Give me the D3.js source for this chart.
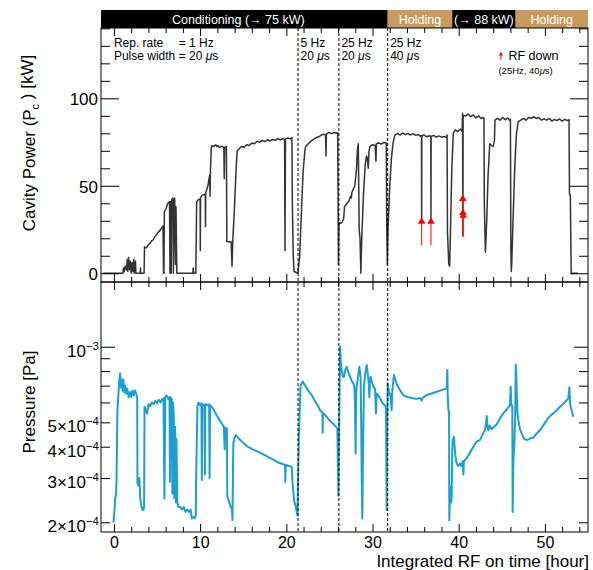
<!DOCTYPE html>
<html>
<head>
<meta charset="utf-8">
<script src="https://cdn.jsdelivr.net/npm/d3@7"></script>
<style>
  body { margin: 0; background: #fff; }
  svg { display: block; }
  text { font-family: "Liberation Sans", Arial, Helvetica, sans-serif; }
</style>
</head>
<body>
<svg id="chart" width="593" height="570"></svg>
<script>
// ---- data ----
// cavity power [hour, kW]
var powerData = [
  [-1.3,0],[1.05,0],[1.1,3],[1.2,1],[1.3,4],[1.45,2],[1.55,8],[1.6,1],[1.7,9],[1.8,2],[1.9,7],[2.0,0],
  [2.1,6],[2.2,1],[2.3,8],[2.35,0],[2.5,7],[2.55,0],[3.05,0],[3.08,3],[3.1,0],[3.5,0],
  [3.55,15],[3.75,14.5],[3.95,16],[4.15,17],[4.35,18.5],[4.55,19],[4.75,21],[4.95,22],[5.15,23.5],[5.35,24.5],
  [5.55,26],[5.7,27],[5.75,0],[5.8,0],[5.85,35],[6.05,37],[6.25,40],[6.45,41],[6.5,0],[6.55,41],[6.65,0],
  [6.7,42],[6.85,43],[6.9,0],[7.0,40],[7.05,43],[7.15,5],[7.2,38],[7.3,0],[7.45,0],
  [9.15,0],[9.2,3],[9.25,0],[9.5,0],[9.6,41],[9.8,42],[10.0,42.5],[10.02,13],[10.05,43],[10.2,44.5],[10.5,45],
  [10.6,45.5],[10.62,26.6],[10.65,46],[10.9,50],[11.1,56],[11.15,44],[11.2,59],[11.3,72],[11.4,73],[11.6,72.5],
  [11.8,73.5],[11.95,72.5],[12.05,73],[12.25,72],[12.5,72.5],[12.75,72],[12.8,54],[12.85,72],[13.05,72.5],
  [13.1,18],[13.6,18],[13.7,4],[13.8,20],[13.95,34],[14.2,62],[14.3,70],
  [14.5,71],[14.8,72.5],[15.1,72],[15.4,73.5],[15.7,73],[16.0,74.5],[16.3,74],[16.6,75.5],[16.9,74.8],[17.2,76],
  [17.5,75.2],[17.8,76.3],[18.1,75.6],[18.4,76.5],[18.7,76],[19.0,77],[19.3,76.3],[19.6,77],[19.8,76.5],
  [19.85,13],[19.9,76.8],[20.2,77.3],[20.45,76.8],[20.65,77.5],[20.7,40],[20.8,10],[20.9,1],[21.35,0],
  [21.55,10],[21.75,35],[21.95,58],[22.15,70],[22.25,72.5],[22.55,74],[22.85,75.5],[23.15,76.5],[23.45,77.5],
  [23.75,78],[24.05,79],[24.35,79.5],[24.55,79],[24.6,67],[24.65,79.5],[24.95,80.5],[25.25,79.8],[25.55,80.5],
  [25.85,80],[25.95,80.5],[25.97,72],[26.05,5],[26.1,29],[26.25,28.5],[26.45,29],[26.65,31],[26.75,38],
  [27.05,40],[27.25,41],[27.45,44],[27.55,43],[27.6,46],[27.85,49],[27.95,50],[28.15,60],[28.25,71],[28.35,74],
  [28.45,25],[28.55,20],[28.65,0],[28.75,20],[28.95,45],[29.15,62],[29.3,67],[29.4,66],[29.5,60],[29.6,70],
  [29.7,72.5],[30.0,73.5],[30.3,73],[30.4,64],[30.45,74],[30.7,74.5],[31.0,73.8],[31.3,74.8],[31.6,74.5],
  [31.65,27],[31.72,5],[31.8,25],[32.0,50],[32.2,66],[32.4,75],[32.6,79],[32.9,80],[33.2,79],[33.5,80.2],
  [33.8,79.2],[34.1,80],[34.4,79],[34.7,79.8],[35.0,78.8],[35.3,79.3],[35.6,78.3],[35.68,78.8],[35.7,30.5],
  [35.72,78.5],[36.0,79],[36.3,78],[36.6,78.6],[36.76,78.2],[36.78,30.5],[36.8,78.2],[37.1,78.8],[37.4,77.8],
  [37.7,78.5],[38.0,77.8],[38.3,78.2],[38.55,77.5],[38.65,79],[38.7,23],[38.85,5],[38.95,4],[39.05,25],
  [39.2,60],[39.37,80],[39.6,82],[39.9,81],[40.2,82.5],[40.4,81],[40.45,91.5],[40.47,43],[40.49,34],[40.51,90],
  [40.8,90],[41.1,91],[41.4,89.5],[41.7,90.5],[42.0,88.8],[42.3,90],[42.6,88.5],[42.9,89],[42.93,88],
  [42.97,40],[43.1,12],[43.25,30],[43.4,55],[43.6,74],[43.8,73],[44.0,72.5],[44.15,76],[44.2,87.5],[44.5,88.5],
  [44.8,87.5],[45.1,89],[45.4,87.8],[45.7,88.8],[45.9,87.5],[46.0,88],[46.05,15],[46.1,1],[46.15,5],[46.3,30],
  [46.5,60],[46.7,80],[46.9,86.5],[47.2,87.5],[47.5,88.5],[47.8,87.5],[48.1,89],[48.4,88.5],[48.7,89.5],
  [49.0,88.5],[49.3,89],[49.6,87.5],[49.9,88.3],[50.2,87.5],[50.5,88.5],[50.8,87],[51.1,88],[51.4,87.2],
  [51.7,88.2],[52.0,87],[52.3,88],[52.6,87.2],[52.8,87.8],[52.85,45.7],[52.95,44],[53.05,0],[53.8,0]
];

// vacuum pressure [hour, Pa x 1e-4]
var pressureE4 = [
  [-0.05,2.0],[0.05,2.2],[0.15,2.5],[0.25,2.6],[0.3,2.9],[0.4,5.5],[0.5,6.3],[0.6,7.2],[0.72,7.83],[0.8,6.9],
  [0.9,7.4],[1.0,6.7],[1.1,7.4],[1.2,6.6],[1.3,7.0],[1.4,6.5],[1.55,6.8],[1.7,6.3],[1.85,6.6],[2.0,6.3],
  [2.15,6.7],[2.3,6.4],[2.45,6.7],[2.58,6.5],[2.7,6.3],[2.73,2.86],[2.85,2.8],[2.95,3.0],[3.05,2.5],[3.15,2.35],
  [3.3,2.25],[3.43,2.24],[3.5,2.3],[3.55,5.77],[3.7,5.6],[3.85,5.42],[4.0,5.9],[4.2,5.8],[4.4,6.0],[4.6,5.9],
  [4.8,6.1],[5.0,5.95],[5.2,6.15],[5.4,6.0],[5.6,6.2],[5.75,6.23],[5.86,2.49],[5.95,6.3],[6.1,6.4],[6.3,6.2],
  [6.45,6.3],[6.5,2.9],[6.55,6.3],[6.7,6.2],[6.78,2.6],[6.85,6.0],[6.95,5.3],[7.0,2.5],[7.1,4.8],[7.2,2.4],
  [7.25,4.3],[7.35,2.4],[7.5,2.3],[7.7,2.3],[7.9,2.25],[8.1,2.3],[8.3,2.2],[8.5,2.25],[8.7,2.2],[8.9,2.25],
  [9.03,2.07],[9.2,2.1],[9.4,2.08],[9.5,2.15],[9.54,3.04],[9.69,5.77],[9.8,6.0],[10.0,5.85],[10.15,5.95],
  [10.2,2.95],[10.25,5.9],[10.5,5.85],[10.55,3.1],[10.6,5.9],[10.9,5.85],[11.05,5.9],[11.1,3.0],[11.15,5.85],
  [11.35,5.77],[11.6,5.6],[11.9,5.35],[12.2,5.15],[12.5,4.95],[12.75,4.8],[12.85,3.9],[12.9,4.75],[13.1,4.73],
  [13.15,2.53],[13.3,2.45],[13.55,2.3],[13.7,2.25],[13.75,2.04],[13.85,4.12],[14.0,4.35],[14.17,4.45],
  [14.5,4.3],[15.0,4.15],[15.5,4.0],[16.0,3.92],[16.5,3.85],[17.0,3.78],[17.5,3.7],[18.0,3.62],[18.5,3.55],
  [19.0,3.47],[19.5,3.42],[19.85,3.38],[19.88,2.9],[19.92,3.38],[20.3,3.35],[20.63,3.33],[20.7,2.94],
  [20.9,2.45],[21.1,2.3],[21.29,2.13],[21.45,4.3],[21.65,7.03],[21.9,7.26],[22.2,7.0],[22.5,6.72],[22.9,6.45],
  [23.3,6.1],[23.7,5.8],[23.91,5.59],[24.2,5.45],[24.22,4.55],[24.25,5.45],[24.6,5.3],[25.0,5.1],[25.4,4.95],
  [25.92,4.73],[26.04,2.56],[26.1,4.0],[26.23,10.0],[26.35,8.4],[26.42,8.08],[26.55,7.6],[26.7,7.6],
  [26.85,8.1],[27.0,8.33],[27.2,7.9],[27.39,7.6],[27.6,7.3],[27.78,7.15],[27.9,6.9],[27.97,6.0],[28.04,3.76],
  [28.1,6.5],[28.16,6.93],[28.3,7.5],[28.47,8.32],[28.55,7.9],[28.62,7.6],[28.7,4.5],[28.74,3.1],[28.82,2.07],
  [28.9,4.0],[29.01,6.93],[29.15,7.8],[29.32,8.45],[29.45,7.8],[29.52,7.37],[29.58,7.0],[29.63,6.3],[29.7,7.2],
  [29.78,7.6],[29.95,7.2],[30.1,6.93],[30.3,6.8],[30.4,5.43],[30.48,6.52],[30.8,6.3],[31.06,6.05],[31.3,5.9],
  [31.56,5.77],[31.64,2.24],[31.7,4.5],[31.76,7.15],[31.9,6.6],[32.03,6.52],[32.15,6.0],[32.22,5.59],
  [32.28,6.5],[32.34,6.93],[32.49,7.72],[32.8,7.1],[33.19,6.72],[33.5,6.45],[33.96,6.32],[34.5,6.25],
  [35.12,6.2],[35.5,6.25],[35.7,6.1],[35.8,6.25],[36.28,6.42],[36.8,6.5],[37.44,6.62],[38.0,6.72],[38.6,6.83],
  [38.68,8.08],[38.72,6.5],[38.8,5.59],[38.88,5.5],[38.91,2.04],[38.98,2.6],[39.07,2.77],[39.13,2.4],
  [39.18,2.5],[39.25,3.8],[39.3,4.25],[39.45,4.38],[39.6,3.7],[39.76,3.43],[39.95,3.35],[40.15,3.43],
  [40.3,3.35],[40.46,3.5],[40.54,3.1],[40.6,3.5],[40.92,3.6],[41.3,3.78],[41.7,4.0],[42.1,4.2],[42.47,4.25],
  [42.8,4.5],[43.05,4.65],[43.2,5.0],[43.25,5.3],[43.35,4.8],[43.44,4.65],[43.6,4.85],[43.83,4.7],[44.1,4.8],
  [44.41,4.9],[44.8,5.2],[45.18,5.43],[45.6,5.65],[45.95,5.86],[46.03,6.93],[46.1,5.95],[46.22,5.77],
  [46.26,2.2],[46.34,3.54],[46.45,4.0],[46.55,5.2],[46.62,8.5],[46.69,7.49],[46.8,5.5],[46.92,5.1],[47.1,4.7],
  [47.31,4.52],[47.6,4.3],[47.89,4.25],[48.2,4.3],[48.66,4.35],[49.0,4.5],[49.44,4.65],[49.8,4.85],
  [50.21,5.1],[50.6,5.3],[50.98,5.43],[51.4,5.6],[51.76,5.77],[52.2,5.95],[52.72,6.23],[52.84,6.89],
  [52.92,6.0],[52.99,5.77],[53.15,5.5],[53.3,5.26]
];

// operation phases shown in the banner
var phaseStart = [-1.5, 31.76, 39.25, 46.6];
var phaseEnd = [31.76, 39.25, 46.6, 55];
var phaseLabels = ["Conditioning (\u2192 75 kW)", "Holding", "(\u2192 88 kW)", "Holding"];
var phaseKind = ["cond", "hold", "cond", "hold"];

// rep-rate / pulse width changes
var changeHours = [21.36, 26.1, 31.76];
var rateLabels = ["5 Hz", "25 Hz", "25 Hz"];
var widthLabels = ["20", "20", "40"];

// RF-down markers [hour, tail kW, tip kW]
var rfDown = [[35.7, 16, 32], [36.78, 16, 32], [40.47, 21, 45], [40.49, 21, 37], [40.52, 21, 35.5]];

// axis ticks
var xMajor = [0, 10, 20, 30, 40, 50];
var xMinor = [2, 4, 6, 8, 12, 14, 16, 18, 22, 24, 26, 28, 32, 34, 36, 38, 42, 44, 46, 48, 52, 54];
var powerMajor = [0, 50, 100];
var powerMinor = [10, 20, 30, 40, 60, 70, 80, 90, 110, 120, 130, 140];
var presLabelled = [2e-4, 3e-4, 4e-4, 5e-4, 1e-3];
var presMinor = [6e-4, 7e-4, 8e-4, 9e-4];

// ---- layout ----
var L = 101, R = 588, T1 = 28, B1 = 282, T2 = 282, B2 = 532;
var svg = d3.select("#chart");

var x = d3.scaleLinear().domain([-1.5, 55]).range([L, R]);
var yPow = d3.scaleLinear().domain([-5, 140.2]).range([B1, T1]);
var yPres = d3.scaleLog().domain([1.83e-4, 1.81e-3]).range([B2, T2]);

var defs = svg.append("defs");
defs.append("clipPath").attr("id", "clipTop").append("rect")
  .attr("x", L).attr("y", T1).attr("width", R - L).attr("height", B1 - T1);
defs.append("clipPath").attr("id", "clipBot").append("rect")
  .attr("x", L).attr("y", T2).attr("width", R - L).attr("height", B2 - T2);

// banner
var banner = svg.append("g");
phaseStart.forEach(function (s, i) {
  banner.append("rect")
    .attr("x", x(s)).attr("y", 10)
    .attr("width", x(phaseEnd[i]) - x(s)).attr("height", T1 - 10)
    .attr("fill", phaseKind[i] == "cond" ? "#000" : "#c79a5f");
  var cx = (x(s) + x(phaseEnd[i])) / 2 + (i == 0 ? -6 : 0);
  banner.append("text")
    .attr("x", cx).attr("y", 24)
    .attr("text-anchor", "middle")
    .attr("fill", "#fff")
    .style("font-size", "12.5px")
    .text(phaseLabels[i]);
});

// lines
var powerLine = d3.line().x(function (d) { return x(d[0]); }).y(function (d) { return yPow(d[1]); });
var presLine = d3.line().x(function (d) { return x(d[0]); }).y(function (d) { return yPres(d[1] * 1e-4); });

svg.append("path")
  .datum(powerData)
  .attr("clip-path", "url(#clipTop)")
  .attr("d", powerLine)
  .attr("fill", "none")
  .attr("stroke", "#333")
  .attr("stroke-width", 1.5)
  .attr("stroke-linejoin", "round");

svg.append("path")
  .datum(pressureE4)
  .attr("clip-path", "url(#clipBot)")
  .attr("d", presLine)
  .attr("fill", "none")
  .attr("stroke", "#1b9fd3")
  .attr("stroke-width", 2)
  .attr("stroke-linejoin", "round");

// RF down arrows
var arrows = svg.append("g").attr("clip-path", "url(#clipTop)");
rfDown.forEach(function (a) {
  var ax = x(a[0]), yTail = yPow(a[1]), yTip = yPow(a[2]);
  arrows.append("line")
    .attr("x1", ax).attr("x2", ax).attr("y1", yTail).attr("y2", yTip + 4)
    .attr("stroke", "#ff0000").attr("stroke-width", 1);
  arrows.append("path")
    .attr("d", "M" + (ax - 3.8) + "," + (yTip + 6.5) + "L" + (ax + 3.8) + "," + (yTip + 6.5) + "L" + ax + "," + yTip + "Z")
    .attr("fill", "#ff0000");
});

// dashed change lines
svg.selectAll(".chg")
  .data(changeHours)
  .enter()
  .append("line")
  .attr("x1", function (d) { return x(d); })
  .attr("x2", function (d) { return x(d); })
  .attr("y1", T1).attr("y2", B2)
  .attr("stroke", "#000").attr("stroke-width", 1)
  .attr("stroke-dasharray", "3,2");

// frames
[[T1, B1], [T2, B2]].forEach(function (p) {
  svg.append("rect")
    .attr("x", L).attr("y", p[0]).attr("width", R - L).attr("height", p[1] - p[0])
    .attr("fill", "none").attr("stroke", "#000").attr("stroke-width", 1);
});

// tick helper
function drawAxis(axis, tx, ty) {
  var g = svg.append("g").attr("transform", "translate(" + tx + "," + ty + ")").call(axis);
  g.select(".domain").remove();
  g.selectAll(".tick line").attr("stroke", "#000");
  return g;
}

// x ticks on all four horizontal edges
[[B1, "up"], [T1, "down"], [T2, "down"], [B2, "up"]].forEach(function (e) {
  var mk = e[1] == "up" ? d3.axisBottom : d3.axisTop;
  drawAxis(mk(x).tickValues(xMajor).tickSize(-8).tickFormat(""), 0, e[0]);
  drawAxis(mk(x).tickValues(xMinor).tickSize(-5).tickFormat(""), 0, e[0]);
});

// x labels
var xl = drawAxis(d3.axisBottom(x).tickValues(xMajor).tickSize(0).tickPadding(0), 0, B2);
xl.selectAll(".tick text").attr("y", 16).attr("dy", 0).style("font-size", "16px").attr("fill", "#000");

// power axis
var pl = drawAxis(d3.axisLeft(yPow).tickValues(powerMajor).tickSize(-18).tickPadding(3), L, 0);
pl.selectAll(".tick text").style("font-size", "17px").attr("fill", "#000").attr("dy", "0.37em");
drawAxis(d3.axisLeft(yPow).tickValues(powerMinor).tickSize(-9).tickFormat(""), L, 0);
drawAxis(d3.axisRight(yPow).tickValues(powerMajor).tickSize(-18).tickFormat(""), R, 0);
drawAxis(d3.axisRight(yPow).tickValues(powerMinor).tickSize(-9).tickFormat(""), R, 0);

// pressure axis
var ql = drawAxis(d3.axisLeft(yPres).tickValues(presLabelled).tickSize(-9).tickPadding(2), L, 0);
ql.selectAll(".tick line").attr("x2", function (d) { return d == 1e-3 ? 14 : 9; });
ql.selectAll(".tick text").each(function (d) {
  var t = d3.select(this).text("").attr("fill", "#000").attr("dy", "0.55em").style("font-size", "17px");
  var exp = Math.floor(Math.log10(d) + 1e-9);
  var mant = Math.round(d / Math.pow(10, exp));
  t.append("tspan").text((mant == 1 ? "" : mant + "\u00d7") + "10");
  t.append("tspan").attr("dy", "-0.6em").style("font-size", "11.5px").text("\u2212" + (-exp));
});
drawAxis(d3.axisLeft(yPres).tickValues(presMinor).tickSize(-9).tickFormat(""), L, 0);
var qr = drawAxis(d3.axisRight(yPres).tickValues(presLabelled.concat(presMinor)).tickSize(-9).tickFormat(""), R, 0);
qr.selectAll(".tick line").attr("x2", function (d) { return d == 1e-3 ? -14 : -9; });

// axis titles
var ty = svg.append("text")
  .attr("transform", "translate(35," + 143 + ") rotate(-90)")
  .attr("text-anchor", "middle")
  .style("font-size", "17px");
ty.append("tspan").text("Cavity Power (P");
ty.append("tspan").attr("dy", "0.35em").style("font-size", "11px").text("c");
ty.append("tspan").attr("dy", "-0.35em").text(" ) [kW]");

svg.append("text")
  .attr("transform", "translate(35," + 402 + ") rotate(-90)")
  .attr("text-anchor", "middle")
  .style("font-size", "17px")
  .text("Pressure [Pa]");

svg.append("text")
  .attr("x", R + 1).attr("y", 567)
  .attr("text-anchor", "end")
  .style("font-size", "17px")
  .text("Integrated RF on time [hour]");

// rate / width annotations
var ann = svg.append("g").style("font-size", "12px");
ann.append("text").attr("x", x(0)).attr("y", 47).text("Rep. rate");
var pw = ann.append("text").attr("x", x(0)).attr("y", 59.5);
var pwLead = pw.append("tspan").text("Pulse width ");
pw.append("tspan").text("= 20 ");
pw.append("tspan").style("font-style", "italic").text("\u03bc");
pw.append("tspan").text("s");
// line the "=" of the first row up with the second row
ann.append("text").attr("x", x(0) + pwLead.node().getComputedTextLength()).attr("y", 47).text("= 1 Hz");
changeHours.forEach(function (h, i) {
  ann.append("text").attr("x", x(h) + 2.5).attr("y", 47).text(rateLabels[i]);
  var w = ann.append("text").attr("x", x(h) + 2.5).attr("y", 59.5).text(widthLabels[i] + " ");
  w.append("tspan").style("font-style", "italic").text("\u03bc");
  w.append("tspan").text("s");
});

// RF down legend
var lx = x(44.9);
svg.append("line").attr("x1", lx).attr("x2", lx).attr("y1", 59.5).attr("y2", 54)
  .attr("stroke", "#ff0000").attr("stroke-width", 1);
svg.append("path")
  .attr("d", "M" + (lx - 2) + "," + 55.5 + "L" + (lx + 2) + "," + 55.5 + "L" + lx + "," + 51.5 + "Z")
  .attr("fill", "#ff0000");
svg.append("text").attr("x", lx + 7.5).attr("y", 59.5).style("font-size", "12.5px").text("RF down");
var leg2 = svg.append("text").attr("x", lx - 2.5).attr("y", 73.5).style("font-size", "9.5px").text("(25Hz, 40");
leg2.append("tspan").style("font-style", "italic").text("\u03bc");
leg2.append("tspan").text("s)");
</script>
</body>
</html>
